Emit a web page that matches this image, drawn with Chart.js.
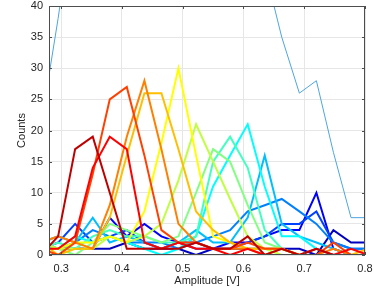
<!DOCTYPE html>
<html><head><meta charset="utf-8">
<script src="https://cdn.jsdelivr.net/npm/chart.js@4/dist/chart.umd.min.js"></script>
<style>html,body{margin:0;padding:0;background:#fff;}#wrap{width:374px;height:288px;}</style>
</head><body><div id="wrap"><canvas id="c" width="374" height="288"></canvas></div>
<script>
// bin centres (amplitude, V)
const amplitudes = [0.267,0.295,0.323,0.352,0.380,0.408,0.437,0.465,0.493,0.522,0.550,0.578,0.607,0.635,0.663,0.692,0.720,0.748,0.777,0.805];
// per-series counts (jet colour order, blue -> dark red)
const s1  = [1,1,1,1,1,2,1,1,1,0,1,1,1,1,1,1,0,4,2,2];
const s2  = [1,1,1,1,6,3,5,3,2,2,1,2,2,3,4,4,10,1,0,0];
const s3  = [1,2,5,2,3,4,2,1,2,1,1,1,2,3,5,5,7,2,1,1];
const s4  = [2,1,2,4,3,2,2,2,1,2,3,4,7,8,9,7,5,2,1,1];
const s5  = [2,3,2,6,2,3,2,1,2,4,2,2,6,16,5,3,2,1,0,0];
const s6  = [2,1,3,2,3,2,1,0,1,3,11,16,21,11,3,3,1,0,0,0];
const s7  = [1,2,1,3,4,3,3,2,2,3,15,19,14,4,1,0,0,0,0,0];
const s8  = [2,1,0,2,5,4,3,2,3,10,17,15,8,2,1,0,0,0,0,0];
const s9  = [2,1,1,1,3,2,3,5,12,21,15,9,3,1,0,0,0,0,0,0];
const s10 = [1,1,2,2,3,2,7,18,30,16,3,2,1,1,1,0,0,0,0,0];
const s11 = [2,0,1,1,6,16,26,26,17,7,4,2,1,1,1,0,0,0,0,1];
const s12 = [2,3,2,1,8,19,28,17,5,2,1,1,1,0,1,0,0,1,0,0];
const s13 = [1,0,2,13,25,27,16,4,2,2,1,1,2,1,1,0,0,2,0,0];
const s14 = [1,1,3,14,19,17,2,1,2,1,1,0,1,0,0,0,1,0,1,0];
const s15 = [0,3,17,19,10,1,1,1,1,2,1,1,3,0,1,0,1,0,0,0];
const total = [21,38,57,70,90,100,100,85,85,95,80,75,75,46,35,26,28,16.5,6,6];
const series = [s1,s2,s3,s4,s5,s6,s7,s8,s9,s10,s11,s12,s13,s14,s15];
const xTicks = [0.3,0.4,0.5,0.6,0.7,0.8];
const yTicks = [0,5,10,15,20,25,30,35,40];

const jet = ['rgb(0,0,191)','rgb(0,0,255)','rgb(0,64,255)','rgb(0,128,255)','rgb(0,191,255)','rgb(0,255,255)',
  'rgb(64,255,191)','rgb(128,255,128)','rgb(191,255,64)','rgb(255,255,0)','rgb(255,191,0)','rgb(255,128,0)',
  'rgb(255,64,0)','rgb(255,0,0)','rgb(191,0,0)'];
const axisColor = '#262626';
const pts = arr => arr.map((v,i)=>({x:amplitudes[i], y:v}));

const datasets = [];
for (let i = series.length-1; i >= 0; i--) {
  datasets.push({data: pts(series[i]), borderColor: jet[i], borderWidth: 2, pointRadius: 0, tension: 0, fill: false, clip: 0});
}
datasets.push({data: pts(total), borderColor: 'rgb(77,166,222)', borderWidth: 1, pointRadius: 0, tension: 0, fill: false, clip: 0});

const frame = {
  id: 'frame',
  afterDatasetsDraw(chart) {
    const {ctx, chartArea: a, scales} = chart;
    ctx.save();
    ctx.strokeStyle = '#4d4d4d'; ctx.lineWidth = 1;
    ctx.strokeRect(a.left+0.5, a.top+0.5, a.right-a.left-1, a.bottom-a.top-1);
    ctx.beginPath();
    xTicks.forEach(v=>{ const px = Math.round(scales.x.getPixelForValue(v))+0.5;
      ctx.moveTo(px,a.bottom); ctx.lineTo(px,a.bottom-3); ctx.moveTo(px,a.top); ctx.lineTo(px,a.top+3); });
    yTicks.forEach(v=>{ const py = Math.round(scales.y.getPixelForValue(v))+0.5;
      ctx.moveTo(a.left,py); ctx.lineTo(a.left+3,py); ctx.moveTo(a.right,py); ctx.lineTo(a.right-3,py); });
    ctx.stroke();
    ctx.restore();
  }
};

new Chart(document.getElementById('c'), {
  type: 'line',
  data: { datasets },
  options: {
    responsive: false, animation: false,
    layout: { padding: { top: 6, right: 9, left: 0, bottom: 0 } },
    plugins: { legend: { display: false }, tooltip: { enabled: false } },
    scales: {
      x: {
        type: 'linear', min: 0.28, max: 0.8,
        afterBuildTicks: s => { s.ticks = xTicks.map(v=>({value:v})); },
        afterFit: s => { s.height = 33; s.paddingLeft = 0; s.paddingRight = 0; },
        grid: { color: '#e6e6e6', drawTicks: false },
        border: { display: false },
        ticks: { color: axisColor, padding: 7, maxRotation: 0, font: { family: 'Liberation Sans', size: 11 }, callback: v => v.toFixed(1) },
        title: { display: true, text: 'Amplitude [V]', color: axisColor, font: { family: 'Liberation Sans', size: 11 }, padding: { top: 2, bottom: 0 } }
      },
      y: {
        type: 'linear', min: 0, max: 40,
        afterBuildTicks: s => { s.ticks = yTicks.map(v=>({value:v})); },
        afterFit: s => { s.width = 49; s.paddingTop = 0; s.paddingBottom = 0; },
        grid: { color: '#e6e6e6', drawTicks: false },
        border: { display: false },
        ticks: { color: axisColor, padding: 6, font: { family: 'Liberation Sans', size: 11 } },
        title: { display: true, text: 'Counts', color: axisColor, font: { family: 'Liberation Sans', size: 11 }, padding: { top: 15, bottom: 0 } }
      }
    }
  },
  plugins: [frame]
});
</script>
</body></html>
